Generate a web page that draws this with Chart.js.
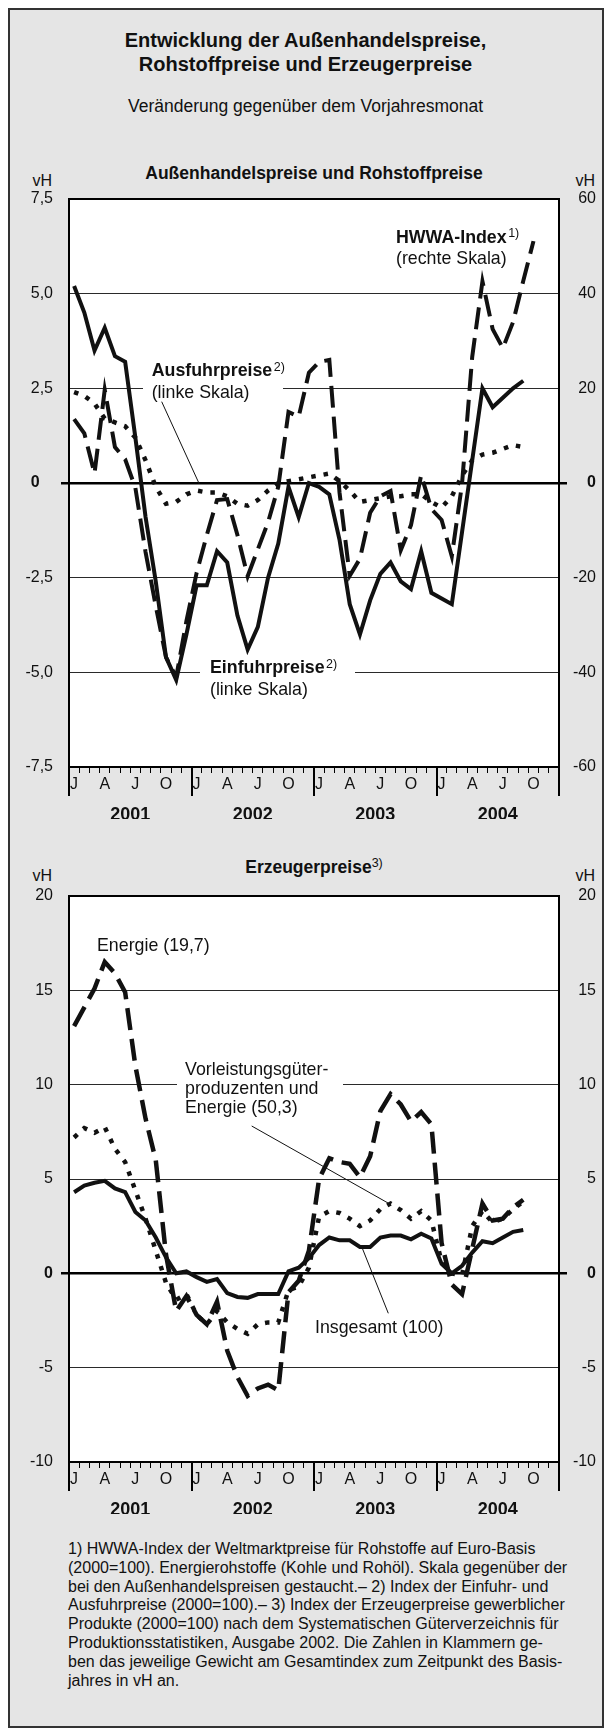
<!DOCTYPE html>
<html lang="de">
<head>
<meta charset="UTF-8">
<title>Entwicklung der Außenhandelspreise, Rohstoffpreise und Erzeugerpreise</title>
<style>
    body { margin: 0; background: #fff; font-family: "Liberation Sans", Arial, Helvetica, sans-serif; color: #111; }
    #page { position: relative; width: 611px; height: 1733px; overflow: hidden; }
    .frame { position: absolute; left: 8px; top: 8px; width: 592px; height: 1716px; border: 2px solid #333; background: #e5e5e5; }
    .txt { position: absolute; white-space: nowrap; }
    .center { left: 0; width: 611px; text-align: center; }
    .title { top: 29px; font-size: 20px; font-weight: bold; line-height: 23.5px; }
    .subtitle { top: 96px; font-size: 17.5px; line-height: 20px; }
    .ctitle { left: 16px; width: 596px; text-align: center; font-size: 17.5px; font-weight: bold; line-height: 20px; }
    .ctitle sup { font-size: 12.5px; font-weight: normal; vertical-align: 6px; line-height: 0; }
    .unit { font-size: 16px; line-height: 18px; }
    .unit.l { left: 0; width: 52px; text-align: right; }
    .unit.r { left: 540px; width: 55px; text-align: right; }
    .foot { left: 68px; top: 1540px; font-size: 16px; line-height: 18.8px; }
    canvas { position: absolute; left: 0; }
</style>
</head>
<body>
<div id="page">
    <div class="frame"></div>
    <div class="txt center title">Entwicklung der Außenhandelspreise,<br>Rohstoffpreise und Erzeugerpreise</div>
    <div class="txt center subtitle">Veränderung gegenüber dem Vorjahresmonat</div>

    <div class="txt ctitle" style="top:163px">Außenhandelspreise und Rohstoffpreise</div>
    <div class="txt unit l" style="top:172px">vH</div>
    <div class="txt unit r" style="top:172px">vH</div>
    <canvas id="trade" width="611" height="680" style="top:150px;width:611px;height:680px"></canvas>

    <div class="txt ctitle" style="top:857px">Erzeugerpreise<sup>3)</sup></div>
    <div class="txt unit l" style="top:867px">vH</div>
    <div class="txt unit r" style="top:867px">vH</div>
    <canvas id="ppi" width="611" height="685" style="top:840px;width:611px;height:685px"></canvas>

    <div class="txt foot">1) HWWA-Index der Weltmarktpreise für Rohstoffe auf Euro-Basis<br>(2000=100). Energierohstoffe (Kohle und Rohöl). Skala gegenüber der<br>bei den Außenhandelspreisen gestaucht.– 2) Index der Einfuhr- und<br>Ausfuhrpreise (2000=100).– 3) Index der Erzeugerpreise gewerblicher<br>Produkte (2000=100) nach dem Systematischen Güterverzeichnis für<br>Produktionsstatistiken, Ausgabe 2002. Die Zahlen in Klammern ge-<br>ben das jeweilige Gewicht am Gesamtindex zum Zeitpunkt des Basis-<br>jahres in vH an.</div>
</div>

<script src="https://cdn.jsdelivr.net/npm/chart.js@4"></script>
<script>
    const FONT = "'Liberation Sans', Arial, Helvetica, sans-serif";

    // months Jan 2001 .. Dec 2004
    const years = ['2001', '2002', '2003', '2004'];
    const monthLetters = ['J', 'F', 'M', 'A', 'M', 'J', 'J', 'A', 'S', 'O', 'N', 'D'];
    const months = years.flatMap(y => monthLetters.map((m, i) => y + '-' + String(i + 1).padStart(2, '0')));

    // tick values of the value axes
    const tradeTicks = [-7.5, -5, -2.5, 0, 2.5, 5, 7.5];
    const hwwaTicks = [-60, -40, -20, 0, 20, 40, 60];
    const ppiTicks = [-10, -5, 0, 5, 10, 15, 20];

    // Außenhandel: change on previous year's month in vH
    const einfuhr = [
        5.2, 4.5, 3.5, 4.1, 3.35, 3.2, 1.2, -0.9, -2.6, -4.6, -5.2, -4.0,
        -2.7, -2.7, -1.8, -2.1, -3.5, -4.4, -3.8, -2.5, -1.6, -0.1, -0.9, 0.0,
        -0.1, -0.3, -1.5, -3.2, -4.0, -3.1, -2.4, -2.1, -2.6, -2.8, -1.8, -2.9,
        -3.05, -3.2, -1.3, 0.6, 2.5, 2.0, 2.25, 2.5, 2.7
    ];
    const ausfuhr = [
        2.4, 2.3, 2.1, 1.7, 1.6, 1.5, 1.2, 0.6, -0.1, -0.55, -0.5, -0.3,
        -0.2, -0.25, -0.25, -0.35, -0.55, -0.6, -0.45, -0.2, 0.0, 0.05, 0.1, 0.15,
        0.2, 0.25, 0.05, -0.2, -0.5, -0.45, -0.4, -0.35, -0.35, -0.3, -0.3, -0.5,
        -0.65, -0.35, 0.2, 0.6, 0.75, 0.8, 0.9, 1.0, 0.95
    ];
    const hwwa = [
        13.5, 10.5, 2, 19.7, 7.6, 5, -1, -14.6, -26, -36.8, -41, -29.2,
        -19, -11, -3.6, -3.4, -11, -19.7, -14, -8.3, -0.8, 15, 14, 23.3,
        25.6, 26, -2, -19.6, -16, -6.3, -2.8, -1.7, -14.2, -8.9, 1.7, -5.5,
        -7.8, -15.5, -0.2, 26.7, 42.6, 32.5, 28.5, 34, 42.7, 51.1
    ];

    // Erzeugerpreise
    const insgesamt = [
        4.3, 4.65, 4.8, 4.9, 4.5, 4.3, 3.25, 2.8, 1.9, 0.85, 0.0, 0.1,
        -0.2, -0.45, -0.3, -1.05, -1.25, -1.3, -1.1, -1.1, -1.1, 0.1, 0.3, 0.8,
        1.5, 1.9, 1.75, 1.75, 1.4, 1.4, 1.9, 2.0, 2.0, 1.8, 2.1, 1.85,
        0.5, 0.0, 0.4, 1.1, 1.7, 1.6, 1.9, 2.2, 2.3
    ];
    const vorleistung = [
        7.2, 7.7, 7.45, 7.75, 6.6, 5.9, 4.4, 2.9, 1.2, -0.5, -1.4, -1.1,
        -2.2, -2.7, -2.0, -2.6, -2.95, -3.2, -2.7, -2.6, -2.6, -0.9, -0.7, 0.3,
        3.0, 3.3, 3.2, 2.9, 2.5, 2.8, 3.4, 3.7, 3.35, 2.9, 3.3, 2.8,
        0.6, 0.0, -0.1, 2.5, 3.3, 2.7, 2.9, 3.4, 3.8
    ];
    const energie = [
        13.1, 14.1, 15.1, 16.5, 15.9, 14.9, 11.0, 8.2, 6.0, 1.0, -2.0, -1.2,
        -2.2, -2.7, -1.5, -4.1, -5.5, -6.5, -6.1, -5.9, -6.2, -1.0, -0.4, 1.2,
        5.0, 6.1, 5.9, 5.8, 5.1, 6.2, 8.6, 9.5, 8.95, 8.05, 8.55, 7.9,
        1.6, -0.6, -1.1, 1.3, 3.7, 2.8, 2.9, 3.5, 3.9
    ];

    const isZero = c => c.tick && c.tick.value === 0;

    function valueAxis(values, side, fmt, withGrid) {
        return {
            type: 'linear',
            position: side,
            min: values[0],
            max: values[values.length - 1],
            afterBuildTicks: s => { s.ticks = values.map(v => ({ value: v })); },
            afterFit: s => { s.width = side === 'left' ? 69 : 37; },
            border: { display: false },
            grid: {
                drawOnChartArea: withGrid,
                color: c => isZero(c) ? '#000' : '#2a2a2a',
                lineWidth: c => isZero(c) ? 2.5 : 1,
                tickLength: 8,
                tickWidth: 2.5,
                tickColor: c => isZero(c) ? '#000' : 'rgba(0,0,0,0)'
            },
            ticks: {
                padding: side === 'left' ? 8 : 6,
                crossAlign: side === 'left' ? 'near' : 'far',
                color: '#111',
                font: c => ({ family: FONT, size: 16, weight: isZero(c) ? 'bold' : 'normal' }),
                callback: fmt
            }
        };
    }

    function timeAxes() {
        return {
            x: {
                type: 'category',
                labels: months,
                offset: true,
                afterFit: s => { s.height = 28; },
                border: { display: false },
                grid: { offset: true, drawOnChartArea: false, tickLength: 6, tickColor: '#000', tickWidth: 1 },
                ticks: {
                    autoSkip: false, maxRotation: 0, padding: 2, color: '#111',
                    font: { family: FONT, size: 16 },
                    callback: (v, i) => i % 3 === 0 ? monthLetters[i % 12] : ''
                }
            },
            x2: {
                type: 'linear',
                axis: 'x',
                position: 'bottom',
                min: 0,
                max: 48,
                afterBuildTicks: s => { s.ticks = years.map((y, i) => ({ value: i * 12 + 6 })); },
                afterFit: s => { s.height = 24; },
                border: { display: false },
                grid: { display: false },
                ticks: {
                    autoSkip: false, maxRotation: 0, padding: 1, color: '#111',
                    font: { family: FONT, size: 18, weight: 'bold' },
                    callback: v => years[(v - 6) / 12]
                }
            }
        };
    }

    function line(label, data, axis, dash, width) {
        return {
            label: label,
            data: data,
            xAxisID: 'x',
            yAxisID: axis,
            borderColor: '#111',
            borderWidth: width,
            borderDash: dash,
            borderCapStyle: 'butt',
            pointRadius: 0,
            tension: 0,
            fill: false
        };
    }

    function drawNote(ctx, n) {
        let x = n.x;
        ctx.fillStyle = '#111';
        ctx.textAlign = 'left';
        ctx.textBaseline = 'alphabetic';
        n.parts.forEach(([text, kind]) => {
            if (kind === 'sup') {
                ctx.font = '12.5px ' + FONT;
                ctx.fillText(text, x + 1.5, n.y - 5.5);
                x += ctx.measureText(text).width + 1.5;
            } else {
                ctx.font = (kind === 'bold' ? 'bold ' : '') + '17.8px ' + FONT;
                ctx.fillText(text, x, n.y);
                x += ctx.measureText(text).width;
            }
        });
    }

    // plot background, label boxes, pointer lines, frame and year separators
    const decor = {
        id: 'decor',
        beforeDraw(chart) {
            const a = chart.chartArea, ctx = chart.ctx;
            ctx.save();
            ctx.fillStyle = '#fff';
            ctx.fillRect(a.left, a.top, a.right - a.left, a.bottom - a.top);
            ctx.restore();
        },
        beforeDatasetsDraw(chart, args, opts) {
            const ctx = chart.ctx;
            ctx.save();
            ctx.fillStyle = '#fff';
            (opts.boxes || []).forEach(b => ctx.fillRect(b[0], b[1], b[2], b[3]));
            ctx.strokeStyle = '#111';
            ctx.lineWidth = 1;
            (opts.pointers || []).forEach(p => {
                ctx.beginPath();
                ctx.moveTo(p[0], p[1]);
                ctx.lineTo(p[2], p[3]);
                ctx.stroke();
            });
            (opts.notes || []).forEach(n => drawNote(ctx, n));
            ctx.restore();
        },
        afterDraw(chart) {
            const a = chart.chartArea, ctx = chart.ctx, xs = chart.scales.x2;
            ctx.save();
            ctx.strokeStyle = '#000';
            ctx.lineWidth = 2;
            ctx.strokeRect(a.left, a.top, a.right - a.left, a.bottom - a.top);
            for (let k = 0; k <= 48; k += 12) {
                const px = Math.round(xs.getPixelForValue(k));
                ctx.beginPath();
                ctx.moveTo(px, a.bottom);
                ctx.lineTo(px, a.bottom + 29);
                ctx.stroke();
            }
            ctx.restore();
        }
    };

    const tradeFmt = v => v === 0 ? '0   ' : v.toFixed(1).replace('.', ',');
    const intFmt = v => String(v);

    new Chart(document.getElementById('trade'), {
        type: 'line',
        data: {
            labels: months,
            datasets: [
                line('HWWA-Index', hwwa, 'y1', [22, 9], 4),
                line('Ausfuhrpreise', ausfuhr, 'y', [4.5, 8], 4.5),
                line('Einfuhrpreise', einfuhr, 'y', [], 4)
            ]
        },
        options: {
            responsive: false,
            animation: false,
            devicePixelRatio: 1,
            layout: { padding: { top: 49, bottom: 11, left: 0, right: 15 } },
            scales: Object.assign(timeAxes(), {
                y: valueAxis(tradeTicks, 'left', tradeFmt, true),
                y1: valueAxis(hwwaTicks, 'right', intFmt, false)
            }),
            plugins: {
                legend: { display: false },
                tooltip: { enabled: false },
                decor: {
                    boxes: [[143, 206, 140, 48], [200, 502, 155, 48]],
                    pointers: [[161.7, 251.7, 199.3, 334]],
                    notes: [
                        { x: 396, y: 92.5, parts: [['HWWA-Index', 'bold'], ['1)', 'sup']] },
                        { x: 396, y: 114, parts: [['(rechte Skala)', '']] },
                        { x: 151.7, y: 226, parts: [['Ausfuhrpreise', 'bold'], ['2)', 'sup']] },
                        { x: 151.7, y: 247.5, parts: [['(linke Skala)', '']] },
                        { x: 210, y: 523, parts: [['Einfuhrpreise', 'bold'], ['2)', 'sup']] },
                        { x: 210, y: 544.5, parts: [['(linke Skala)', '']] }
                    ]
                }
            }
        },
        plugins: [decor]
    });

    new Chart(document.getElementById('ppi'), {
        type: 'line',
        data: {
            labels: months,
            datasets: [
                line('Energie (19,7)', energie, 'y', [22, 9], 4.5),
                line('Vorleistungsgüterproduzenten und Energie (50,3)', vorleistung, 'y', [4.5, 8], 4.5),
                line('Insgesamt (100)', insgesamt, 'y', [], 4)
            ]
        },
        options: {
            responsive: false,
            animation: false,
            devicePixelRatio: 1,
            layout: { padding: { top: 56, bottom: 11, left: 0, right: 15 } },
            scales: Object.assign(timeAxes(), {
                y: valueAxis(ppiTicks, 'left', intFmt, true),
                y1: valueAxis(ppiTicks, 'right', intFmt, false)
            }),
            plugins: {
                legend: { display: false },
                tooltip: { enabled: false },
                decor: {
                    boxes: [[177, 218, 166, 60]],
                    pointers: [[251.7, 286, 388, 363], [388.3, 473.3, 361.7, 406.7]],
                    notes: [
                        { x: 97, y: 111, parts: [['Energie (19,7)', '']] },
                        { x: 185, y: 235, parts: [['Vorleistungsgüter-', '']] },
                        { x: 185, y: 254, parts: [['produzenten und', '']] },
                        { x: 185, y: 273, parts: [['Energie (50,3)', '']] },
                        { x: 315, y: 493, parts: [['Insgesamt (100)', '']] }
                    ]
                }
            }
        },
        plugins: [decor]
    });
</script>
</body>
</html>
